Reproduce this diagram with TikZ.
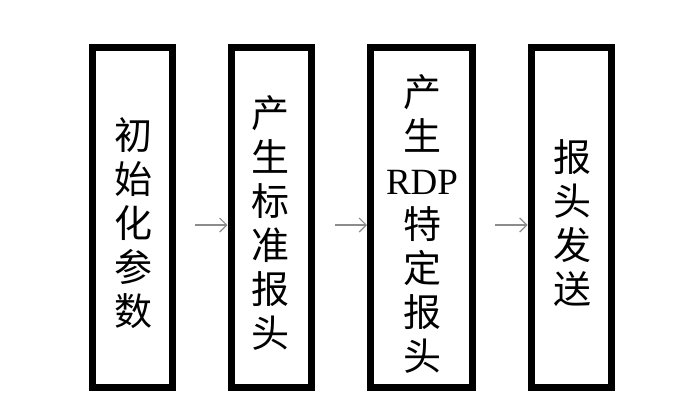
\documentclass[tikz,border=0pt]{standalone}
\usepackage{fontspec}
\setmainfont{Liberation Serif}
\newfontfamily\cjk{Noto Sans CJK SC}
\usetikzlibrary{arrows.meta, calc}
\definecolor{arrowgray}{RGB}{140,140,140}

\begin{document}
\begin{tikzpicture}[x=1pt, y=-1pt, line join=miter,
    stepbox/.style={draw, line width=7pt, inner sep=0pt},
    steptext/.style={inner sep=0pt, align=center, font=\cjk\fontsize{38}{44}\selectfont},
    flow/.style={-{Straight Barb[length=7pt,width=14pt]}, arrowgray, line width=1.2pt}]
    \useasboundingbox (0,0) rectangle (676,416);

    \node[stepbox, minimum width=80, minimum height=340] (init) at (132,217.5) {};
    \node[stepbox, minimum width=80, minimum height=340] (std) at (271,217.5) {};
    \node[stepbox, minimum width=102, minimum height=340] (rdp) at (421.5,217.5) {};
    \node[stepbox, minimum width=80, minimum height=340] (send) at (571,217.5) {};

    \node[steptext] (initText) at ($(init)+(1,5.5)$) {初\\始\\化\\参\\数};
    \node[steptext] (stdText) at ($(std)+(-1,5)$) {产\\生\\标\\准\\报\\头};
    \node[steptext] (rdpText) at ($(rdp)+(0.5,6)$)
        {产\\生\\{\rmfamily\fontsize{37}{44}\selectfont RDP}\\特\\定\\报\\头};
    \node[steptext] (sendText) at ($(send)+(1,5.5)$) {报\\头\\发\\送};

    \coordinate (a1) at (195,225);
    \coordinate (a2) at (335,225);
    \coordinate (a3) at (495,225);

    \draw[flow] (a1) -- (a1 -| std.west);
    \draw[flow] (a2) -- (a2 -| rdp.west);
    \draw[flow] (a3) -- (a3 -| send.west);
\end{tikzpicture}
\end{document}
